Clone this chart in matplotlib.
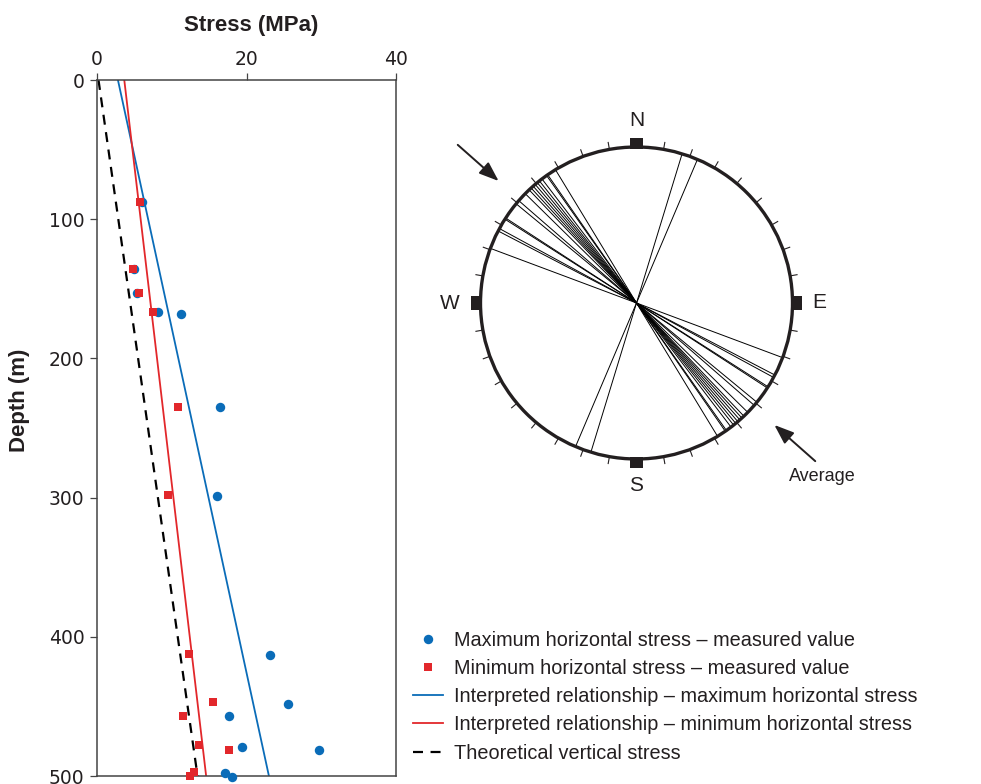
import numpy as np
import matplotlib.pyplot as plt
from matplotlib.patches import Circle, Polygon

plt.rcParams["font.family"] = ["Liberation Sans", "DejaVu Sans"]

BLUE = "#0a6cb8"
RED = "#e2272b"
INK = "#231f20"

# measured values (MPa, m)
max_stress = [6.0, 5.0, 5.4, 8.2, 11.2, 16.4, 16.1, 23.1, 25.5, 17.6, 19.4, 29.7, 17.1, 18.1]
max_depth = [88, 136, 153, 167, 168, 235, 299, 413, 448, 457, 479, 481, 498, 501]
min_stress = [5.7, 4.8, 5.6, 7.5, 10.9, 9.45, 12.35, 15.5, 11.5, 13.7, 17.7, 13.0, 12.5]
min_depth = [88, 136, 153, 167, 235, 298, 412, 447, 457, 478, 481, 497, 500]

# interpreted relationships (end points)
line_depth = [0, 500]
max_fit = [2.8, 23.0]
min_fit = [3.65, 14.6]
vert_fit = [0.2, 13.45]

# orientation of measured maximum horizontal stress (azimuth, deg)
rose_az = [17, 23, 110.5, 117.5, 118.5, 122.5, 123, 129.5, 131, 134.5, 136.5,
           137.5, 138.5, 139.5, 140.5, 141.5, 142.7, 144.8, 145.3, 148.7]
average_az = 131.5

fig = plt.figure(figsize=(9.81, 7.84), dpi=100)

# ---- depth profile ----
ax = fig.add_axes([97 / 981, 1 - 776 / 784, 299 / 981, 696 / 784])
ax.plot(vert_fit, line_depth, color="black", lw=1.6, ls=(0, (4.5, 3.4)),
        label="Theoretical vertical stress", zorder=2)
ax.plot(max_fit, line_depth, color=BLUE, lw=1.3,
        label="Interpreted relationship \u2013 maximum horizontal stress", zorder=2)
ax.plot(min_fit, line_depth, color=RED, lw=1.3,
        label="Interpreted relationship \u2013 minimum horizontal stress", zorder=2)
ax.plot(max_stress, max_depth, "o", color=BLUE, ms=6.8, mew=0, clip_on=False,
        label="Maximum horizontal stress \u2013 measured value", zorder=3)
ax.plot(min_stress, min_depth, "s", color=RED, ms=5.8, mew=0, clip_on=False,
        label="Minimum horizontal stress \u2013 measured value", zorder=4)

ax.set_xlim(0, 40)
ax.set_ylim(500, 0)
ax.set_xticks([0, 20, 40])
ax.set_yticks([0, 100, 200, 300, 400, 500])
ax.xaxis.tick_top()
ax.xaxis.set_label_position("top")
ax.tick_params(axis="x", length=5, width=0.9, pad=3, colors="#444444", labelcolor=INK)
ax.tick_params(axis="y", length=5, width=0.9, pad=4, colors="#444444", labelcolor=INK)
for lab in ax.get_xticklabels() + ax.get_yticklabels():
    lab.set_fontfamily("DejaVu Sans")
    lab.set_fontsize(13.5)
for sp in ax.spines.values():
    sp.set_color("#444444")
    sp.set_linewidth(1.1)
ax.set_xlabel("Stress (MPa)", fontsize=16, fontweight="bold", color=INK)
ax.xaxis.set_label_coords(0.515, 1.07)
ax.set_ylabel("Depth (m)", fontsize=16, fontweight="bold", color=INK)
ax.yaxis.set_label_coords(-0.224, 0.54)

handles, labels = ax.get_legend_handles_labels()
order = [3, 4, 1, 2, 0]
fig.legend([handles[i] for i in order], [labels[i] for i in order],
           loc="upper left", bbox_to_anchor=(413 / 981, 1 - 631 / 784),
           frameon=False, fontsize=14.3, handlelength=1.5, handletextpad=0.55,
           labelspacing=0.46, borderpad=0, borderaxespad=0, labelcolor=INK)

# ---- rose of stress orientations ----
R = 156.0
cx, cy = 636.5, 303.0
half = 210.0
rax = fig.add_axes([(cx - half) / 981, 1 - (cy + half) / 784, 2 * half / 981, 2 * half / 784])
rax.set_xlim(-half / R, half / R)
rax.set_ylim(-half / R, half / R)
rax.set_aspect("equal")
rax.axis("off")

for az in rose_az:
    t = np.radians(az)
    rax.plot([-np.sin(t), np.sin(t)], [-np.cos(t), np.cos(t)], color="black", lw=0.7)

rax.add_patch(Circle((0, 0), 1.0, fill=False, ec=INK, lw=2.4, zorder=5))

for deg in range(0, 360, 10):
    if deg % 90 == 0:
        continue
    t = np.radians(deg)
    rax.plot([np.sin(t), 1.045 * np.sin(t)], [np.cos(t), 1.045 * np.cos(t)],
             color=INK, lw=0.8)

cardinals = ["N", "E", "S", "W"]
for i, name in enumerate(cardinals):
    t = np.radians(90 * i)
    ux, uy = np.sin(t), np.cos(t)
    vx, vy = uy, -ux
    w, r0, r1 = 0.042, 0.99, 1.06
    pts = [(r0 * ux + w * vx, r0 * uy + w * vy), (r1 * ux + w * vx, r1 * uy + w * vy),
           (r1 * ux - w * vx, r1 * uy - w * vy), (r0 * ux - w * vx, r0 * uy - w * vy)]
    rax.add_patch(Polygon(pts, closed=True, fc=INK, ec="none", zorder=6))
    rl = 1.17 if name != "W" else 1.2
    rax.text(rl * ux, rl * uy, name, ha="center", va="center", fontsize=15, color=INK)

for az in (average_az + 180, average_az):
    t = np.radians(az)
    rax.annotate("", xy=(1.18 * np.sin(t), 1.18 * np.cos(t)),
                 xytext=(1.53 * np.sin(t), 1.53 * np.cos(t)),
                 arrowprops=dict(arrowstyle="-|>,head_length=0.8,head_width=0.3",
                                 mutation_scale=15, color=INK, lw=1.4,
                                 shrinkA=0, shrinkB=0))
t = np.radians(average_az)
rax.text(1.53 * np.sin(t) + 0.045, 1.53 * np.cos(t) - 0.045, "Average",
         ha="center", va="top", fontsize=13, color=INK)

fig.savefig("out.png", dpi=100)
